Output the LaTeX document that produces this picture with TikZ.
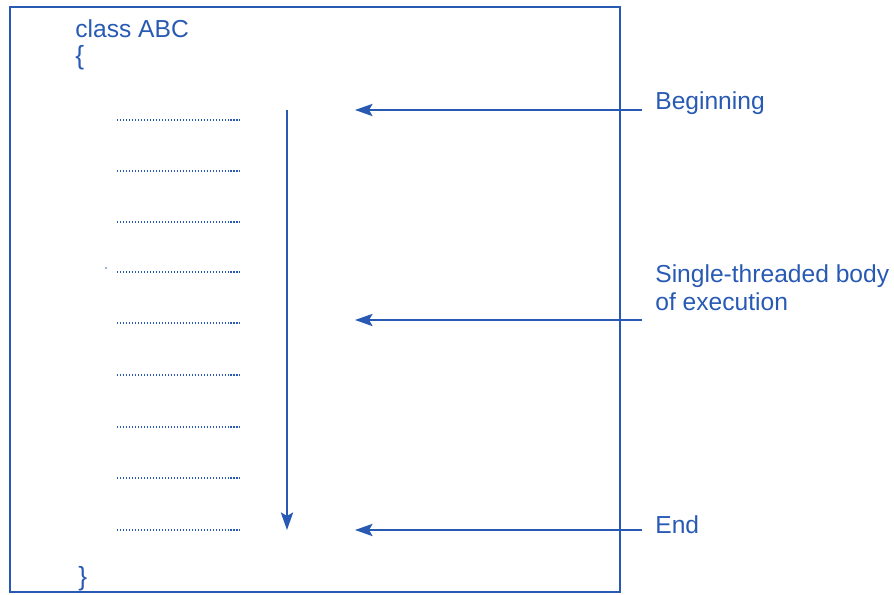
\documentclass[tikz,border=0pt]{standalone}
\usepackage{fontspec}
\setmainfont{Liberation Sans}
\usepackage{tikz}
\usetikzlibrary{arrows.meta, positioning}

\definecolor{inkblue}{RGB}{40,90,180}

\begin{document}
\begin{tikzpicture}[x=0.02cm, y=-0.02cm, >={Stealth[length=10pt,width=7pt,inset=2pt]},
    every node/.style={inner sep=0pt, text=inkblue, font=\fontsize{14}{15.5}\selectfont},
    codeline/.style={inkblue, line width=0.9pt, dash pattern=on 0.6pt off 1.1pt},
    flow/.style={->, inkblue, line width=1pt}]

\useasboundingbox (0,0) rectangle (894,595);

% Class box
\draw[inkblue, line width=1pt] (10,7) rectangle (620,592);

% Code text
\node[anchor=base west] (cls) at (75,37) {class ABC};
\node[anchor=base west, font=\fontsize{15}{16}\selectfont] (open) at (75,65) {\{};
\node[anchor=base west, font=\fontsize{15}{16}\selectfont] (close) at (78,585) {\}};

% Body lines
\foreach \i/\y in {1/120,2/171,3/222,4/272,5/323,6/375,7/427,8/478,9/530}
  \draw[codeline] (117,\y) -- (240,\y);
\fill[inkblue!60] (106,268) circle (0.6pt);

% Flow of execution
\coordinate (top) at (287,110);
\coordinate (bottom) at (287,530);
\draw[flow] (top) -- (bottom);

% Labels
\node[anchor=base west] (begin) at (655,110) {Beginning};
\node[anchor=base west, align=left] (body) at (655,310) {Single-threaded body\\of execution};
\node[anchor=base west] (end) at (655,533) {End};

\coordinate (begintip) at (355,110);
\coordinate (bodytip) at (355,320);
\coordinate (endtip) at (355,530);
\coordinate (beginstart) at (642,110);
\coordinate (bodystart) at (642,320);
\coordinate (endstart) at (642,530);

\draw[flow] (beginstart) -- (begintip);
\draw[flow] (bodystart) -- (bodytip);
\draw[flow] (endstart) -- (endtip);

\end{tikzpicture}
\end{document}
